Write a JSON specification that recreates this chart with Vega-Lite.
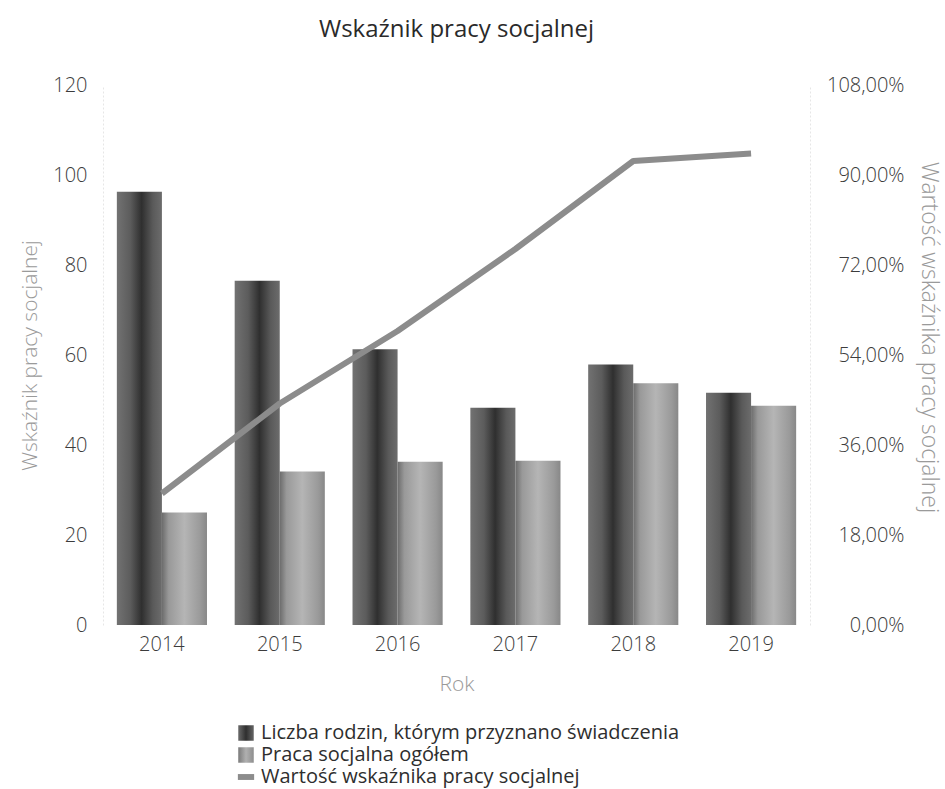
{
  "$schema": "https://vega.github.io/schema/vega-lite/v6.json",
  "autosize": "none",
  "padding": {"left": 103, "top": 85, "right": 135, "bottom": 164},
  "width": 707,
  "height": 540,
  "background": "white",
  "title": {"text": "Wskaźnik pracy socjalnej", "font": "Open Sans", "fontSize": 24, "fontWeight": "normal", "color": "#2a2a2a", "offset": 33, "anchor": "middle"},
  "datasets": {
    "bars": [
      {"rok": "2014", "seria": "Liczba rodzin, którym przyznano świadczenia", "wartosc": 96.3},
      {"rok": "2014", "seria": "Praca socjalna ogółem", "wartosc": 25.0},
      {"rok": "2015", "seria": "Liczba rodzin, którym przyznano świadczenia", "wartosc": 76.5},
      {"rok": "2015", "seria": "Praca socjalna ogółem", "wartosc": 34.1},
      {"rok": "2016", "seria": "Liczba rodzin, którym przyznano świadczenia", "wartosc": 61.3},
      {"rok": "2016", "seria": "Praca socjalna ogółem", "wartosc": 36.3},
      {"rok": "2017", "seria": "Liczba rodzin, którym przyznano świadczenia", "wartosc": 48.3},
      {"rok": "2017", "seria": "Praca socjalna ogółem", "wartosc": 36.5},
      {"rok": "2018", "seria": "Liczba rodzin, którym przyznano świadczenia", "wartosc": 57.9},
      {"rok": "2018", "seria": "Praca socjalna ogółem", "wartosc": 53.7},
      {"rok": "2019", "seria": "Liczba rodzin, którym przyznano świadczenia", "wartosc": 51.6},
      {"rok": "2019", "seria": "Praca socjalna ogółem", "wartosc": 48.7}
    ],
    "linia": [
      {"rok": "2014", "wskaznik": 0.263},
      {"rok": "2015", "wskaznik": 0.443},
      {"rok": "2016", "wskaznik": 0.588},
      {"rok": "2017", "wskaznik": 0.752},
      {"rok": "2018", "wskaznik": 0.928},
      {"rok": "2019", "wskaznik": 0.943}
    ]
  },
  "config": {
    "view": {"stroke": null},
    "font": "Open Sans"
  },
  "encoding": {
    "x": {
      "field": "rok", "type": "nominal", "title": "Rok",
      "scale": {"paddingInner": 0.235, "paddingOuter": 0.1175},
      "axis": {"labelAngle": 0, "labelFontSize": 20, "labelFontWeight": 300, "labelColor": "#3c3c3c", "labelPadding": 9, "ticks": false, "domain": false, "titleFontSize": 21, "titleFontWeight": 300, "titleColor": "#9a9a9a", "titlePadding": 19}
    }
  },
  "layer": [
    {
      "data": {"name": "bars"},
      "mark": {"type": "bar"},
      "encoding": {
        "xOffset": {"field": "seria", "type": "nominal", "scale": {"paddingInner": 0, "paddingOuter": 0}},
        "y": {
          "field": "wartosc", "type": "quantitative", "title": "Wskaźnik pracy socjalnej",
          "scale": {"domain": [0, 120], "nice": false},
          "axis": {"values": [0, 20, 40, 60, 80, 100, 120], "grid": false, "ticks": false, "domain": true, "domainColor": "#e6e6e6", "domainDash": [2, 2], "labelFontSize": 20, "labelFontWeight": 300, "labelColor": "#3c3c3c", "labelPadding": 16, "titleFontSize": 21, "titleFontWeight": 300, "titleColor": "#9a9a9a", "titleX": -73, "titleY": 270, "titleAngle": -90, "titleBaseline": "middle", "titleAlign": "center"}
        },
        "fill": {
          "condition": {
            "test": "datum.seria === 'Liczba rodzin, którym przyznano świadczenia'",
            "value": {"gradient": "linear", "x1": 0, "y1": 0, "x2": 1, "y2": 0, "stops": [{"offset": 0, "color": "#727272"}, {"offset": 0.3, "color": "#5c5c5c"}, {"offset": 0.55, "color": "#2f2f2f"}, {"offset": 0.8, "color": "#5a5a5a"}, {"offset": 1, "color": "#6c6c6c"}]}
          },
          "value": {"gradient": "linear", "x1": 0, "y1": 0, "x2": 1, "y2": 0, "stops": [{"offset": 0, "color": "#6c6c6c"}, {"offset": 0.15, "color": "#999999"}, {"offset": 0.5, "color": "#b5b5b5"}, {"offset": 0.85, "color": "#9a9a9a"}, {"offset": 1, "color": "#888888"}]}
        }
      }
    },
    {
      "data": {"name": "linia"},
      "mark": {"type": "line", "strokeWidth": 6, "strokeCap": "butt", "strokeJoin": "round"},
      "encoding": {
        "y": {
          "field": "wskaznik", "type": "quantitative", "title": "Wartość wskaźnika pracy socjalnej",
          "scale": {"domain": [0, 1.08], "nice": false},
          "axis": {"orient": "right", "values": [0, 0.18, 0.36, 0.54, 0.72, 0.9, 1.08], "labelExpr": "replace(format(datum.value, '.2%'), '.', ',')", "grid": false, "ticks": false, "domain": true, "domainColor": "#e6e6e6", "domainDash": [2, 2], "labelFontSize": 20, "labelFontWeight": 300, "labelColor": "#3c3c3c", "labelAlign": "right", "labelPadding": 94, "titleFontSize": 23, "titleFontWeight": 300, "titleColor": "#9a9a9a", "titleX": 118, "titleY": 252, "titleAngle": 90, "titleBaseline": "middle", "titleAlign": "center"}
        },
        "color": {
          "datum": "Wartość wskaźnika pracy socjalnej", "type": "nominal",
          "scale": {
            "domain": ["Liczba rodzin, którym przyznano świadczenia", "Praca socjalna ogółem", "Wartość wskaźnika pracy socjalnej"],
            "range": ["#4a4a4a", "#9a9a9a", "#8c8c8c"]
          },
          "legend": {
            "title": null, "orient": "none", "legendX": 133, "legendY": 638, "direction": "vertical",
            "labelFontSize": 20, "labelFontWeight": "normal", "labelColor": "#2e2e2e", "labelOffset": 5, "labelLimit": 700,
            "symbolSize": 240, "symbolStrokeWidth": 0, "rowPadding": 2,
            "encode": {"symbols": {"update": {
              "shape": {"signal": "datum.value === 'Wartość wskaźnika pracy socjalnej' ? 'M-1.05,-0.38H1.05V0.38H-1.05Z' : 'square'"},
              "fill": {"signal": "datum.value === 'Liczba rodzin, którym przyznano świadczenia' ? {gradient: 'linear', x1: 0, y1: 0, x2: 1, y2: 0, stops: [{offset: 0, color: '#6a6a6a'}, {offset: 0.5, color: '#2f2f2f'}, {offset: 1, color: '#666666'}]} : datum.value === 'Praca socjalna ogółem' ? {gradient: 'linear', x1: 0, y1: 0, x2: 1, y2: 0, stops: [{offset: 0, color: '#7a7a7a'}, {offset: 0.5, color: '#b0b0b0'}, {offset: 1, color: '#8e8e8e'}]} : '#8c8c8c'"},
              "stroke": {"value": null},
              "strokeWidth": {"value": 0}
            }}}
          }
        }
      }
    }
  ],
  "resolve": {"scale": {"y": "independent"}}
}
